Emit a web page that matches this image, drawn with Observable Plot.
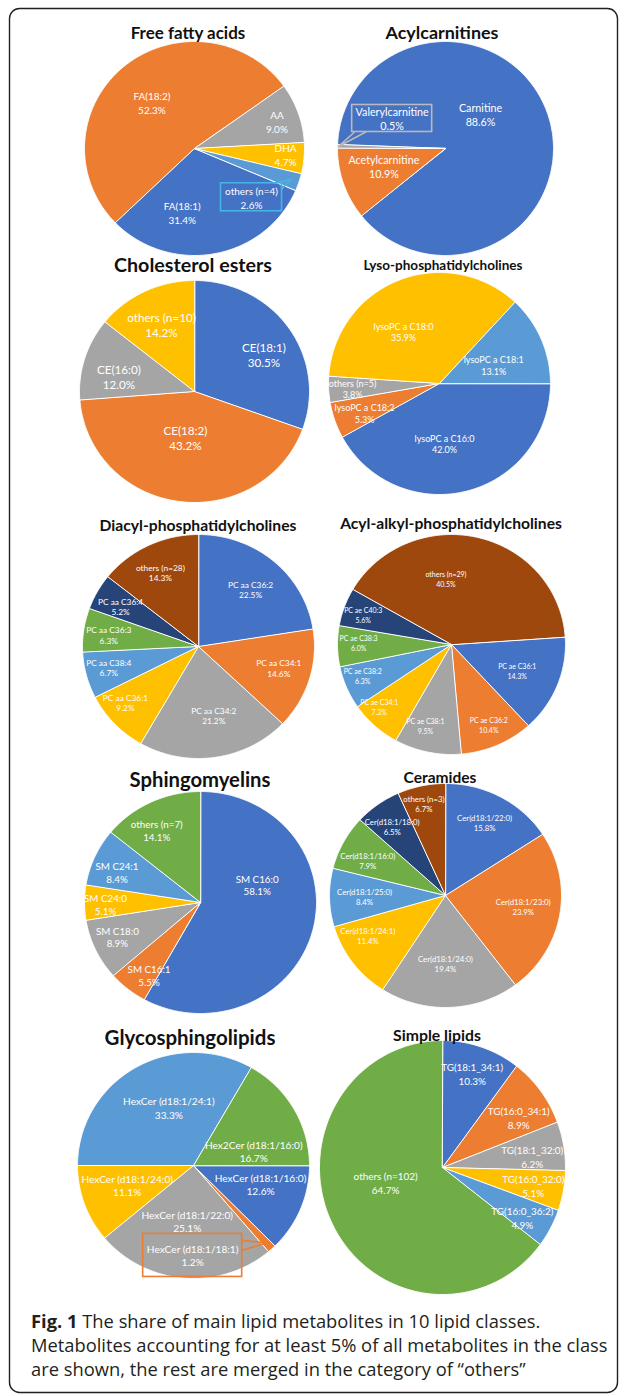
<!DOCTYPE html>
<html>
<head>
<meta charset="utf-8">
<script src="https://cdn.jsdelivr.net/npm/d3@7"></script>
<script src="https://cdn.jsdelivr.net/npm/@observablehq/plot@0.6"></script>
<style>
  html, body { margin: 0; padding: 0; background: #fff; }
  #page { position: relative; width: 627px; height: 1396px; overflow: hidden; background: #fff; }
  #page > svg { position: absolute; }
</style>
</head>
<body>
<div id="page"></div>
<script>
// ---------- data (shares in %) ----------
const ffaNames = ["FA(18:1)", "FA(18:2)", "AA", "DHA", "others (n=4)"];
const ffaShares = [31.4, 52.3, 9.0, 4.7, 2.6];

const acylNames = ["Carnitine", "Acetylcarnitine", "Valerylcarnitine"];
const acylShares = [88.6, 10.9, 0.5];

const ceNames = ["CE(18:1)", "CE(18:2)", "CE(16:0)", "others (n=10)"];
const ceShares = [30.5, 43.2, 12.0, 14.2];

const lysoNames = ["lysoPC a C16:0", "lysoPC a C18:2", "others (n=5)", "lysoPC a C18:0", "lysoPC a C18:1"];
const lysoShares = [42.0, 5.3, 3.8, 35.9, 13.1];

const diacylNames = ["PC aa C36:2", "PC aa C34:1", "PC aa C34:2", "PC aa C36:1", "PC aa C38:4", "PC aa C36:3", "PC aa C36:4", "others (n=28)"];
const diacylShares = [22.5, 14.6, 21.2, 9.2, 6.7, 6.3, 5.2, 14.3];

const aeNames = ["PC ae C36:1", "PC ae C36:2", "PC ae C38:1", "PC ae C34:1", "PC ae C38:2", "PC ae C38:3", "PC ae C40:3", "others (n=29)"];
const aeShares = [14.3, 10.4, 9.5, 7.3, 6.3, 6.0, 5.6, 40.5];

const smNames = ["SM C16:0", "SM C16:1", "SM C18:0", "SM C24:0", "SM C24:1", "others (n=7)"];
const smShares = [58.1, 5.5, 8.9, 5.1, 8.4, 14.1];

const cerNames = ["Cer(d18:1/22:0)", "Cer(d18:1/23:0)", "Cer(d18:1/24:0)", "Cer(d18:1/24:1)", "Cer(d18:1/25:0)", "Cer(d18:1/16:0)", "Cer(d18:1/18:0)", "others (n=3)"];
const cerShares = [15.8, 23.9, 19.4, 11.4, 8.4, 7.9, 6.5, 6.7];

const glyNames = ["HexCer (d18:1/16:0)", "HexCer (d18:1/18:1)", "HexCer (d18:1/22:0)", "HexCer (d18:1/24:0)", "HexCer (d18:1/24:1)", "Hex2Cer (d18:1/16:0)"];
const glyShares = [12.6, 1.2, 25.1, 11.1, 33.3, 16.7];

const tgNames = ["TG(18:1_34:1)", "TG(16:0_34:1)", "TG(18:1_32:0)", "TG(16:0_32:0)", "TG(16:0_36:2)", "others (n=102)"];
const tgShares = [10.3, 8.9, 6.2, 5.1, 4.9, 64.7];

const classTitles = ["Free fatty acids", "Acylcarnitines", "Cholesterol esters", "Lyso-phosphatidylcholines",
  "Diacyl-phosphatidylcholines", "Acyl-alkyl-phosphatidylcholines", "Sphingomyelins", "Ceramides",
  "Glycosphingolipids", "Simple lipids"];

const captionLines = [
  ["Fig. 1", " The share of main lipid metabolites in 10 lipid classes."],
  ["", "Metabolites accounting for at least 5% of all metabolites in the class"],
  ["", "are shown, the rest are merged in the category of \u201cothers\u201d"]
];

// ---------- styling / layout ----------
const palette = ["#4472C4", "#ED7D31", "#A5A5A5", "#FFC000", "#5B9BD5", "#70AD47", "#264478", "#9E480E"];

const pies = [
  {names: ffaNames, values: ffaShares, cx: 194, cy: 148, rx: 110, ry: 107, start: 113,
   title: [188, 33, 115], labelRef: ["FA(18:2)", 37], gap: 14,
   turn: [21, -2, 1, -1, 23], rad: [0.61, 0.58, 0.79, 0.83, 0.69],
   callout: {slice: 4, w: 61, h: 28, color: "#45B5E8", a: [0.88, 0], b: [1, 0.2], tip: 0.92}},
  {names: acylNames, values: acylShares, cx: 445, cy: 148, rx: 108, ry: 107, start: 272,
   title: [442, 33, 113], labelRef: ["Acetylcarnitine", 71], gap: 14.3,
   turn: [-26, 3, 28.5], rad: [0.455, 0.595, 0.568],
   callout: {slice: 2, w: 80, h: 27, color: "#B9B9B9", a: [0.03, 1], b: [0.17, 1], tip: 0.99}},
  {names: ceNames, values: ceShares, cx: 194, cy: 391, rx: 115, ry: 111, start: 0,
   title: [193, 265, 158], labelRef: ["CE(18:1)", 44], gap: 15,
   turn: [6.5, 3, -6, 0], rad: [0.687, 0.426, 0.67, 0.664]},
  {names: lysoNames, values: lysoShares, cx: 439, cy: 383, rx: 111, ry: 111, start: 90,
   title: [443, 265, 159], labelRef: ["lysoPC a C16:0", 60], gap: 11.5,
   turn: [9.7, -2.4, -0.5, -13.2, 5.1], rad: [0.545, 0.727, 0.785, 0.567, 0.515]},
  {names: diacylNames, values: diacylShares, cx: 198, cy: 646, rx: 116, ry: 112, start: 0,
   title: [198, 525, 197], labelRef: ["others (n=28)", 49], gap: 10.3,
   turn: [1, -1.6, -3.8, 5, 1, -1.1, -1.3, -0.7], rad: [0.677, 0.719, 0.63, 0.805, 0.797, 0.78, 0.76, 0.738]},
  {names: aeNames, values: aeShares, cx: 451, cy: 644, rx: 114, ry: 110, start: 86,
   title: [451, 523, 222], labelRef: ["others (n=29)", 41], gap: 10,
   turn: [0.6, -0.4, 5.1, 5.8, 2.9, 2.3, -0.8, -17.7], rad: [0.623, 0.8, 0.773, 0.85, 0.83, 0.815, 0.82, 0.6]},
  {names: smNames, values: smShares, cx: 200, cy: 902, rx: 116, ry: 111, start: 0,
   title: [200, 780, 141], labelRef: ["others (n=7)", 52], gap: 12.7,
   turn: [-32.3, -4.8, 1.8, -1, -3.4, -4.9], rad: [0.513, 0.792, 0.781, 0.819, 0.77, 0.748]},
  {names: cerNames, values: cerShares, cx: 445, cy: 895, rx: 116, ry: 112, start: 0,
   title: [440, 777, 73], labelRef: ["Cer(d18:1/22:0)", 55], gap: 10,
   turn: [-1, -1.1, 2.2, 8.2, -0.1, -3.3, -1.2, -0.8], rad: [0.731, 0.678, 0.61, 0.762, 0.698, 0.739, 0.763, 0.836]},
  {names: glyNames, values: glyShares, cx: 193, cy: 1165, rx: 116, ry: 113, start: 90,
   title: [190, 1038, 171], labelRef: ["HexCer (d18:1/24:1)", 92], gap: 13.3,
   turn: [-6.8, 43, 1.4, 3.2, 7.5, 16.3], rad: [0.601, 0.796, 0.496, 0.597, 0.553, 0.535],
   callout: {slice: 1, w: 99, h: 43, color: "#ED7D31", a: [1, 0.15], b: [1, 0.38], tip: 0.93}},
  {names: tgNames, values: tgShares, cx: 442, cy: 1167, rx: 123, ry: 127, start: 0,
   title: [437, 1035, 88], labelRef: ["others (n=102)", 64], gap: 14,
   turn: [-0.4, 4.3, 2.8, 0.6, 2.8, 11.8], rad: [0.776, 0.736, 0.735, 0.752, 0.759, 0.478]}
];

// ---------- helpers ----------
const measureCtx = document.createElement("canvas").getContext("2d");
function fitFontSize(text, target, weight, family) {
  measureCtx.font = `${weight} 100px ${family}`;
  return 100 * target / measureCtx.measureText(text).width;
}
const DEG = Math.PI / 180;
const page = document.getElementById("page");

function buildPie(p) {
  const m = 24;
  const total = d3.sum(p.values);
  let acc = p.start;
  const slices = p.names.map((name, i) => {
    const a0 = acc, a1 = acc + p.values[i] / total * 360;
    acc = a1;
    return {name, value: p.values[i], a0, a1, mid: (a0 + a1) / 2};
  });
  const outline = slices.flatMap(s => {
    const n = Math.max(2, Math.ceil((s.a1 - s.a0) / 0.5));
    const pts = [{name: s.name, x: 0, y: 0}];
    for (let k = 0; k <= n; k++) {
      const t = (s.a0 + (s.a1 - s.a0) * k / n) * DEG;
      pts.push({name: s.name, x: Math.sin(t), y: Math.cos(t)});
    }
    return pts;
  });
  const fs = fitFontSize(p.labelRef[0], p.labelRef[1], "normal", "Lato");
  const labels = slices.map((s, i) => {
    const t = (s.mid + p.turn[i]) * DEG;
    return {text: `${s.name}\n${s.value.toFixed(1)}%`, x: p.rad[i] * Math.sin(t), y: p.rad[i] * Math.cos(t)};
  });
  const marks = [
    Plot.line(outline, {x: "x", y: "y", z: "name", fill: "name", stroke: "#fff", strokeWidth: 1,
      strokeLinejoin: "round", curve: "linear-closed"})
  ];
  if (p.callout) {
    const c = p.callout, s = slices[c.slice], lab = labels[c.slice];
    const hw = c.w / 2 / p.rx, hh = c.h / 2 / p.ry;
    const box = {x1: lab.x - hw, x2: lab.x + hw, y1: lab.y - hh, y2: lab.y + hh};
    const pt = (f) => ({x: box.x1 + f[0] * (box.x2 - box.x1), y: box.y2 - f[1] * (box.y2 - box.y1)});
    const tip = {x: c.tip * Math.sin(s.mid * DEG), y: c.tip * Math.cos(s.mid * DEG)};
    marks.push(Plot.rect([box], {x1: "x1", x2: "x2", y1: "y1", y2: "y2", fill: "none", stroke: c.color, strokeWidth: 1.6}));
    marks.push(Plot.line([pt(c.a), tip, pt(c.b)], {x: "x", y: "y", stroke: c.color, strokeWidth: 1.6}));
  }
  marks.push(Plot.text(labels, {x: "x", y: "y", text: "text", fill: "#fff", fontSize: fs,
    lineHeight: p.gap / fs, fontFamily: "Lato"}));
  const fig = Plot.plot({
    width: 2 * p.rx + 2 * m, height: 2 * p.ry + 2 * m, margin: 0,
    x: {domain: [-1 - m / p.rx, 1 + m / p.rx], axis: null},
    y: {domain: [-1 - m / p.ry, 1 + m / p.ry], axis: null},
    color: {domain: p.names, range: palette},
    style: {background: "transparent", overflow: "visible"},
    marks
  });
  fig.style.left = (p.cx - p.rx - m) + "px";
  fig.style.top = (p.cy - p.ry - m) + "px";
  page.appendChild(fig);
}

pies.forEach(buildPie);

// ---------- frame, titles, caption ----------
const overlay = d3.create("svg").attr("width", 627).attr("height", 1396)
  .style("left", "0px").style("top", "0px").style("pointer-events", "none");
overlay.append("rect").attr("x", 9.5).attr("y", 8.5).attr("width", 608).attr("height", 1384)
  .attr("rx", 10).attr("fill", "none").attr("stroke", "#231F20").attr("stroke-width", 1.4);

pies.forEach((p, i) => {
  const [tx, ty, tw] = p.title;
  const fs = fitFontSize(classTitles[i], tw, "bold", "Lato");
  overlay.append("text").attr("x", tx).attr("y", ty + 0.358 * fs)
    .attr("text-anchor", "middle").attr("font-family", "Lato").attr("font-weight", "bold")
    .attr("font-size", fs).attr("fill", "#111").text(classTitles[i]);
});

const capFs = fitFontSize(captionLines[1][1], 577, "normal", "Open Sans");
const capBase = [1328, 1352, 1376];
captionLines.forEach((ln, i) => {
  const t = overlay.append("text").attr("x", 31).attr("y", capBase[i])
    .attr("font-family", "Open Sans").attr("font-size", capFs).attr("fill", "#231F20");
  if (ln[0]) t.append("tspan").attr("font-weight", "bold").text(ln[0]);
  t.append("tspan").text(ln[1]);
});
page.appendChild(overlay.node());
</script>
</body>
</html>
